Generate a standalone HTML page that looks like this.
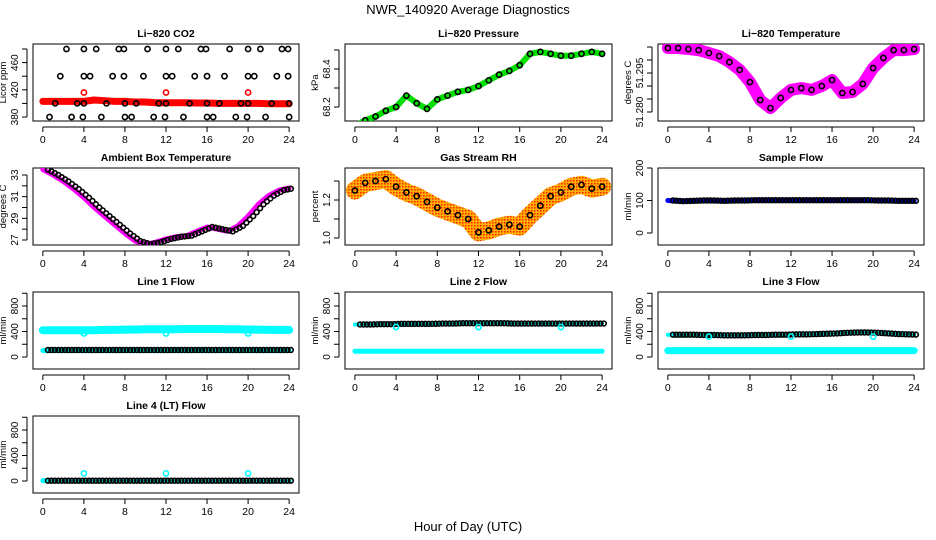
<!DOCTYPE html>
<html><head><meta charset="utf-8"><style>
html,body{margin:0;padding:0;background:#fff;}
svg{display:block;font-family:"Liberation Sans",sans-serif;}
</style></head><body>
<svg id="c" width="936" height="540" xmlns="http://www.w3.org/2000/svg">
<defs>
<pattern id="rhpat" width="3" height="3" patternUnits="userSpaceOnUse"><rect width="3" height="3" fill="#ffb000"/><rect width="1.5" height="1.5" fill="#ff2000"/></pattern>
</defs>
<text x="468" y="14" text-anchor="middle" font-size="13">NWR_140920  Average Diagnostics</text>
<text x="468" y="531" text-anchor="middle" font-size="13">Hour of Day (UTC)</text>
</svg>
<script>
const hours=[0,1,2,3,4,5,6,7,8,9,10,11,12,13,14,15,16,17,18,19,20,21,22,23,24];
const xTicks=[0,4,8,12,16,20,24];
const co2Red=[403,403,403,403,403,405,404,403,403,402,402,401,401,401,401,400.5,400.5,400,400,400,400,400,399.5,399.5,399.5];
const co2BlackT480=[2.3,4.0,5.2,7.4,7.9,10.2,12.0,13.2,15.4,15.9,18.2,20.0,21.2,23.3,23.9];
const co2BlackT440=[1.7,4.0,4.6,6.8,7.9,9.8,12.0,12.6,14.8,16.0,17.7,20.0,20.6,22.8,23.9];
const co2BlackT400=[1.2,3.35,4.0,6.2,8.0,9.1,11.3,12.0,14.3,16.0,17.2,19.3,20.0,22.3,24];
const co2BlackT380=[0.65,2.8,3.9,5.7,8.0,8.65,10.8,11.9,13.7,16.0,16.6,18.8,19.9,21.7,24];
const co2RedOutT=[4,12,20];
const pressure=[68.10,68.13,68.15,68.18,68.20,68.26,68.22,68.19,68.24,68.26,68.28,68.29,68.31,68.34,68.37,68.39,68.42,68.48,68.49,68.48,68.47,68.47,68.48,68.49,68.48];
const liTemp=[51.3046,51.3046,51.3042,51.3038,51.3027,51.3015,51.2992,51.2962,51.2915,51.2846,51.2815,51.2854,51.2885,51.2892,51.2885,51.2900,51.2923,51.2873,51.2877,51.2908,51.2969,51.3008,51.3038,51.3038,51.3042];
const ambTemp=[33.5,33.0,32.4,31.7,30.9,30.0,29.2,28.4,27.6,26.9,26.6,26.8,27.1,27.3,27.4,27.8,28.2,28.0,27.8,28.3,29.2,30.3,31.1,31.6,31.8];
const rh=[1.25,1.29,1.30,1.31,1.27,1.24,1.22,1.19,1.16,1.14,1.12,1.10,1.03,1.04,1.06,1.07,1.06,1.12,1.17,1.22,1.24,1.27,1.28,1.26,1.27];
const sampleFlow=[100,98,99,100,100,99,100,100,101,101,101,101,101,101,101,101,101,101,101,101,100,100,99,99,99];
const l1High=[420,420,420,420,420,420,425,425,430,430,435,435,435,435,440,440,440,440,435,435,430,430,425,425,425];
const l1Low=[100,100,100,100,100,100,100,100,100,100,100,100,100,100,100,100,100,100,100,100,100,100,100,100,100];
const l1Black=[110,110,110,110,110,110,110,110,110,110,110,110,110,110,110,110,110,110,110,110,110,110,110,110,110];
const l2High=[510,510,515,515,520,520,520,520,525,525,530,530,530,530,530,525,525,525,525,525,525,525,525,525,525];
const l2Low=[90,90,90,90,90,90,90,90,90,90,90,90,90,90,90,90,90,90,90,90,90,90,90,90,90];
const l3Black=[350,350,350,345,345,340,340,340,345,345,350,350,355,355,360,365,370,380,385,385,380,370,360,355,350];
const l3Low=[100,100,100,100,100,100,100,100,100,100,100,100,100,100,100,100,100,100,100,100,100,100,100,100,100];
const l4Black=[5,5,5,5,5,5,5,5,5,5,5,5,5,5,5,5,5,5,5,5,5,5,5,5,5];
const dipT=[4,12,20];
const l1Dip=[370,370,370];
const l2Dip=[470,470,470];
const l3Dip=[320,320,320];
const l4Dip=[120,120,120];

const NS="http://www.w3.org/2000/svg";
const svg=document.getElementById('c');
function mk(tag,at,parent){const e=document.createElementNS(NS,tag);for(const k in at)e.setAttribute(k,at[k]);(parent||svg).appendChild(e);return e;}
const cols=[[33,299],[345,612],[658,924]];
const rows=[[44,121],[168,245],[292,369],[416,493]];
function panel(name,title,c,r,ylab,v1,p1,v2,p2,ticks,labels){
  const [L,R]=cols[c],[T,B]=rows[r];
  const g=mk('g',{});
  
  
  const sx=h=>L+(h+0.96)/25.92*(R-L);
  const dy=p1+(r*124); const dy2=p2+(r*124);
  const sy=v=>dy+(v-v1)*(dy2-dy)/(v2-v1);
  const t=mk('text',{x:(L+R)/2,y:T-7,'text-anchor':'middle','font-size':10.5,'font-weight':'bold'},g);t.textContent=title;
  
  
  const box=mk('rect',{x:L,y:T,width:R-L,height:B-T,fill:'none',stroke:'#000','stroke-width':1},g);
  
  
  const xa=mk('g',{},g);
  
  
  mk('line',{x1:sx(0),x2:sx(24),y1:B+6,y2:B+6,stroke:'#000'},xa);
  xTicks.forEach(h=>{mk('line',{x1:sx(h),x2:sx(h),y1:B+6,y2:B+11,stroke:'#000'},xa);
    const tl=mk('text',{x:sx(h),y:B+22,'text-anchor':'middle','font-size':10.5},xa);tl.textContent=h;});
  const ya=mk('g',{},g);
  
  
  mk('line',{x1:L-6,x2:L-6,y1:sy(ticks[0]),y2:sy(ticks[ticks.length-1]),stroke:'#000'},ya);
  ticks.forEach((v,i)=>{mk('line',{x1:L-11,x2:L-6,y1:sy(v),y2:sy(v),stroke:'#000'},ya);
    if(labels[i]){const tl=mk('text',{x:L-15,y:sy(v),'text-anchor':'middle','font-size':10,transform:`rotate(-90 ${L-15} ${sy(v)})`},ya);tl.textContent=labels[i];}});
  const yl=mk('text',{x:L-27,y:(T+B)/2,'text-anchor':'middle','font-size':9.5,transform:`rotate(-90 ${L-27} ${(T+B)/2})`},g);yl.textContent=ylab;
  
  
  const clip='cp'+name;
  const cp=mk('clipPath',{id:clip},g);mk('rect',{x:L,y:T,width:R-L,height:B-T},cp);
  const data=mk('g',{'clip-path':`url(#${clip})`},g);
  
  
  return {sx,sy,g:data};
}
function band(p,vals,color,w,name){
  const pts=hours.map((h,i)=>p.sx(h)+','+p.sy(vals[i])).join(' ');
  const e=mk('polyline',{points:pts,fill:'none',stroke:color,'stroke-width':w,'stroke-linejoin':'round','stroke-linecap':'round'},p.g);
  
  
}
function pts(p,ts,vals,color,name,r){
  ts.forEach((h,i)=>{const e=mk('circle',{cx:p.sx(h),cy:p.sy(vals[i]),r:r||2.6,fill:'none',stroke:color,'stroke-width':1.6},p.g);
  
  });
}
function hourPts(p,vals,color,name){pts(p,hours,vals,color,name);}
function halfPts(p,vals,color,name){const ts=[],vs=[];for(let i=0;i<hours.length-1;i++){for(let k=0;k<3;k++){ts.push(hours[i]+0.5+k/3);vs.push(vals[i]+(k/3)*(vals[i+1]-vals[i]));}}pts(p,ts,vs,color,name,2.4);}

let p=panel('co2-panel','Li−820 CO2',0,0,'Licor ppm',380,117,480,49,[380,400,420,440,460,480],['380','','420','','460','']);
band(p,co2Red,'#ff0000',7,'co2-red-band');
pts(p,co2BlackT480,co2BlackT480.map(()=>480),'#000','co2-point');
pts(p,co2BlackT440,co2BlackT440.map(()=>440),'#000','co2-point');
pts(p,co2BlackT400,co2BlackT400.map(()=>400),'#000','co2-point');
pts(p,co2BlackT380,co2BlackT380.map(()=>380),'#000','co2-point');
pts(p,co2RedOutT,co2RedOutT.map(()=>416),'#ff0000','co2-red-point');
p=panel('pressure-panel','Li−820 Pressure',1,0,'kPa',68.2,107,68.4,69,[68.2,68.3,68.4,68.5],['68.2','','68.4','']);
band(p,pressure,'#00e000',6,'pressure-band');
hourPts(p,pressure,'#000','pressure-point');
p=panel('li-temp-panel','Li−820 Temperature',2,0,'degrees C',51.280,112,51.285,99,[51.280,51.285,51.290,51.295,51.300,51.305],['51.280','','','51.295','','']);
band(p,liTemp,'#ff00ff',12,'li-temp-band');
hourPts(p,liTemp,'#000','li-temp-point');
p=panel('ambient-temp-panel','Ambient Box Temperature',0,1,'degrees C',27,116,33,51,[27,28,29,30,31,32,33],['27','','29','','31','','33']);
band(p,ambTemp,'#ff00ff',5,'ambient-band');
halfPts(p,ambTemp,'#000','ambient-point');
p=panel('rh-panel','Gas Stream RH',1,1,'percent',1.0,114,1.2,76,[1.0,1.1,1.2,1.3],['1.0','','1.2','']);
band(p,rh,'url(#rhpat)',18,'rh-band');
hourPts(p,rh,'#000','rh-point');
p=panel('sample-flow-panel','Sample Flow',2,1,'ml/min',0,109,200,44,[0,100,200],['0','100','200']);
band(p,sampleFlow,'#0000ff',5,'sample-flow-band');
halfPts(p,sampleFlow,'#000','sample-flow-point');
const ft=[0,200,400,600,800,1000],fl=['0','','400','','800',''];
p=panel('line1-flow-panel','Line 1 Flow',0,2,'ml/min',0,109,800,58,ft,fl);
band(p,l1High,'#00ffff',8,'line1-high-band');
band(p,l1Low,'#00ffff',5,'line1-low-band');
halfPts(p,l1Black,'#000','line1-point');
pts(p,dipT,l1Dip,'#00ffff','line1-dip-point');
p=panel('line2-flow-panel','Line 2 Flow',1,2,'ml/min',0,109,800,58,ft,fl);
band(p,l2Low,'#00ffff',5,'line2-low-band');
band(p,l2High,'#00ffff',4,'line2-high-band');
halfPts(p,l2High,'#000','line2-point');
pts(p,dipT,l2Dip,'#00ffff','line2-dip-point');
p=panel('line3-flow-panel','Line 3 Flow',2,2,'ml/min',0,109,800,58,ft,fl);
band(p,l3Low,'#00ffff',7,'line3-low-band');
band(p,l3Black,'#00ffff',4,'line3-cyan-band');
halfPts(p,l3Black,'#000','line3-point');
pts(p,dipT,l3Dip,'#00ffff','line3-dip-point');
p=panel('line4-flow-panel','Line 4 (LT) Flow',0,3,'ml/min',0,109,800,58,ft,fl);
band(p,l4Black,'#00ffff',5,'line4-cyan-band');
halfPts(p,l4Black,'#000','line4-point');
pts(p,dipT,l4Dip,'#00ffff','line4-dip-point');
</script>
</body></html>
